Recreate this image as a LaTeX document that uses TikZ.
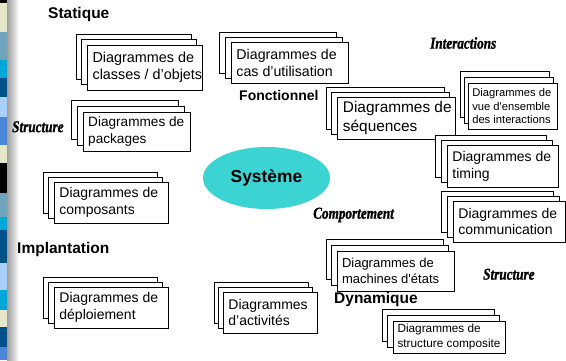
\documentclass[tikz,border=0pt]{standalone}
\usepackage{fontspec}
\setmainfont{Liberation Sans}
\newfontfamily\condf{Liberation Serif}[FakeStretch=0.8, FakeBold=1.2]
\usetikzlibrary{shapes.geometric}
\definecolor{sysblue}{HTML}{3CD3D3}
\definecolor{sbeige}{HTML}{E6E6C8}
\definecolor{ssteel}{HTML}{6FA6BE}
\definecolor{scyan}{HTML}{00A8D8}
\definecolor{sdark}{HTML}{00508A}
\definecolor{slight}{HTML}{A8D0FA}
\definecolor{smed}{HTML}{4A86D8}
\tikzset{
  backbox/.style={draw=black, fill=white, line width=0.8pt},
  frontbox/.style={draw=black, fill=white, line width=0.8pt, inner sep=0pt},
  boxtext/.style={align=left, inner sep=0pt, anchor=west},
  biglabel/.style={font=\fontsize{15.5}{18}\selectfont\bfseries, inner sep=0pt, anchor=mid west},
  catlabel/.style={font=\condf\fontsize{16.5}{18}\selectfont\bfseries\itshape, inner sep=0pt, anchor=mid west},
}
% #1 name, #2 x0, #3 y0, #4 x1, #5 y1, #6 font size, #7 text, #8 dx, #9 dy
\newcommand\diagstack[9]{%
  \pgfmathsetmacro\dw{#4-#2}%
  \pgfmathsetmacro\dh{#5-#3}%
  \pgfmathsetmacro\bs{#6*1.2}%
  \pgfmathsetmacro\pad{#6*0.4}%
  \draw[backbox] ({#2-2*#8},{#3-2*#9}) rectangle ++(\dw,\dh);
  \draw[backbox] ({#2-#8},{#3-#9}) rectangle ++(\dw,\dh);
  \node[frontbox, minimum width=\dw pt, minimum height=\dh pt] (#1) at ({(#2+#4)/2},{(#3+#5)/2}) {};
  \node[boxtext, font=\fontsize{#6}{\bs}\selectfont] (#1t) at ([xshift=\pad pt]#1.west) {#7};
}
\begin{document}
\begin{tikzpicture}[x=1pt,y=-1pt]
\useasboundingbox (0,0) rectangle (566,360);
\fill[white] (0,0) rectangle (566,360);
% left stripe
\shade[left color=black!38, right color=white] (7,0) rectangle (19,360);
\fill[black]  (0,0) rectangle (7,3);
\fill[sbeige] (0,3) rectangle (7,32);
\fill[ssteel] (0,32) rectangle (7,60);
\fill[scyan]  (0,60) rectangle (7,78);
\fill[sdark]  (0,78) rectangle (7,97);
\fill[slight] (0,97) rectangle (7,117);
\fill[smed]   (0,117) rectangle (7,145);
\fill[sbeige] (0,145) rectangle (7,163);
\fill[black]  (0,163) rectangle (7,193);
\fill[ssteel] (0,193) rectangle (7,217);
\fill[scyan]  (0,217) rectangle (7,230);
\fill[sdark]  (0,230) rectangle (7,263);
\fill[slight] (0,263) rectangle (7,290);
\fill[scyan]  (0,290) rectangle (7,310);
\fill[sbeige] (0,310) rectangle (7,327);
\fill[sdark]  (0,327) rectangle (7,347);
\fill[smed]   (0,347) rectangle (7,360);

% diagram stacks
\diagstack{classes}{87}{45}{202}{90}{14.4}{Diagrammes de\\classes / d’objets}{5.5}{5.5}
\diagstack{packages}{83}{112}{190}{151}{13.6}{Diagrammes de\\packages}{5.8}{5.8}
\diagstack{cas}{231}{42}{348}{83}{14.2}{Diagrammes de\\cas d’utilisation}{5.8}{5}
\diagstack{seq}{337}{97}{455}{139}{15.4}{Diagrammes de\\séquences}{5.3}{5}
\diagstack{vue}{468}{83}{557}{129}{11.2}{Diagrammes de\\vue d\textquotesingle ensemble\\des interactions}{3.7}{6}
\diagstack{timing}{447}{145}{558}{187}{14}{Diagrammes de\\timing}{6}{5}
\diagstack{comm}{453}{201}{565}{242}{14}{Diagrammes de\\communication}{6}{4.7}
\diagstack{etats}{337}{251}{454}{291}{13}{Diagrammes de\\machines d\textquotesingle états}{5.3}{5.7}
\diagstack{compo}{393}{321}{505}{353}{11.8}{Diagrammes de\\structure composite}{5.5}{6}
\diagstack{composants}{54}{182}{168}{223}{14}{Diagrammes de\\composants}{5.3}{5}
\diagstack{deploi}{54}{287}{168}{328}{14}{Diagrammes de\\déploiement}{5.3}{5}
\diagstack{activ}{223}{292}{317}{333}{14}{Diagrammes\\d’activités}{4.2}{5}

% central ellipse
\node[ellipse, fill=sysblue, minimum width=127pt, minimum height=62pt, inner sep=0pt,
      font=\fontsize{17.4}{20}\selectfont\bfseries] (sys) at (266.5,178) {Système};

% labels
\node[biglabel] (statique) at (48,16) {Statique};
\node[biglabel, font=\fontsize{14}{16}\selectfont\bfseries] (fonct) at (239,98) {Fonctionnel};
\node[biglabel] (implant) at (17,251) {Implantation};
\node[biglabel] (dyn) at (334,300.5) {Dynamique};
\node[catlabel] (structL) at (12,129.5) {Structure};
\node[catlabel] (inter) at (430,46) {Interactions};
\node[catlabel] (comport) at (313,216) {Comportement};
\node[catlabel] (structR) at (483,277) {Structure};
\end{tikzpicture}
\end{document}
